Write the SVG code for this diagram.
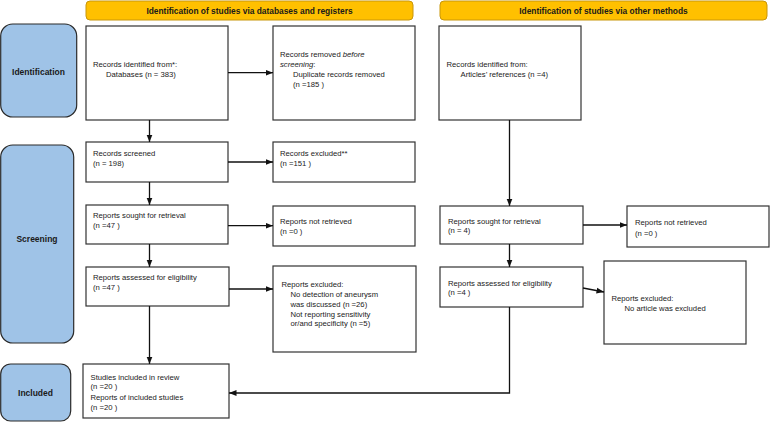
<svg xmlns="http://www.w3.org/2000/svg" width="770" height="422" viewBox="0 0 770 422">
<style>
text{font-family:"Liberation Sans",Arial,sans-serif;font-size:7.7px;fill:#1a1a1a}
.hdr{fill:#FFC000;stroke:#C8960A;stroke-width:1}
.hdrt{font-weight:bold;text-anchor:middle;font-size:8.4px}
.pill{fill:#9FC3E7;stroke:#2a2a2a;stroke-width:1.2}
.pillt{font-weight:bold;text-anchor:middle;font-size:8.5px}
.box{fill:#fff;stroke:#333;stroke-width:1.2}
.con{fill:none;stroke:#111;stroke-width:1.3}
</style>
<defs>
<marker id="ah" viewBox="0 0 10 10" refX="10" refY="5" markerWidth="7.5" markerHeight="7.5" markerUnits="userSpaceOnUse" orient="auto">
<path d="M0,1 L10,5 L0,9 z" fill="#111"/>
</marker>
</defs>
<rect width="770" height="422" fill="#fff"/>

<g id="hdr1"><rect class="hdr" x="86" y="1" width="327" height="19" rx="4"/><text class="hdrt" x="249.5" y="13.8">Identification of studies via databases and registers</text></g>
<g id="hdr2"><rect class="hdr" x="440" y="1" width="327" height="19" rx="4"/><text class="hdrt" x="603.5" y="13.8">Identification of studies via other methods</text></g>

<g id="pill-identification"><rect class="pill" x="0.7" y="24" width="76" height="93" rx="12"/><text class="pillt" x="38.5" y="74.7">Identification</text></g>
<g id="pill-screening"><rect class="pill" x="0.7" y="145" width="73" height="198" rx="12"/><text class="pillt" x="37" y="242">Screening</text></g>
<g id="pill-included"><rect class="pill" x="0.7" y="364" width="70" height="57" rx="10"/><text class="pillt" x="35.5" y="395.7">Included</text></g>

<g id="n-records-identified"><rect class="box" x="86" y="26" width="142" height="94"/>
<text x="93" y="66.5">Records identified from*:</text><text x="106" y="77">Databases (n = 383)</text></g>
<g id="n-records-removed"><rect class="box" x="273" y="26" width="142" height="94"/>
<text x="280" y="56.5">Records removed <tspan font-style="italic">before</tspan></text><text x="280" y="67" font-style="italic">screening<tspan font-style="normal">:</tspan></text><text x="293" y="77">Duplicate records removed</text><text x="293" y="87">(n =185 )</text></g>
<g id="n-other-identified"><rect class="box" x="439" y="26" width="142" height="94"/>
<text x="446.5" y="66.5">Records identified from:</text><text x="460.5" y="77">Articles’ references (n =4)</text></g>

<g id="n-screened"><rect class="box" x="86" y="142" width="142" height="40"/>
<text x="93" y="155.5">Records screened</text><text x="93" y="165.5">(n = 198)</text></g>
<g id="n-excluded"><rect class="box" x="273" y="142" width="142" height="40"/>
<text x="280" y="155.5">Records excluded**</text><text x="280" y="165.5">(n =151 )</text></g>

<g id="n-sought"><rect class="box" x="86" y="205" width="142" height="39"/>
<text x="93" y="218">Reports sought for retrieval</text><text x="93" y="228">(n =47 )</text></g>
<g id="n-not-retrieved"><rect class="box" x="273" y="206" width="142" height="40"/>
<text x="280" y="224">Reports not retrieved</text><text x="280" y="234">(n =0 )</text></g>

<g id="n-assessed"><rect class="box" x="86" y="267" width="143" height="39"/>
<text x="93" y="280">Reports assessed for eligibility</text><text x="93" y="289.5">(n =47 )</text></g>
<g id="n-reports-excluded"><rect class="box" x="273" y="266" width="143" height="86"/>
<text x="281.5" y="287">Reports excluded:</text><text x="290.5" y="297">No detection of aneurysm</text><text x="290.5" y="306.5">was discussed (n =26)</text><text x="290.5" y="316.5">Not reporting sensitivity</text><text x="290.5" y="326">or/and specificity (n =5)</text></g>

<g id="n-included"><rect class="box" x="83" y="364" width="146" height="54"/>
<text x="90.5" y="379.5">Studies included in review</text><text x="90.5" y="389">(n =20 )</text><text x="90.5" y="399.5">Reports of included studies</text><text x="90.5" y="409.5">(n =20 )</text></g>

<g id="n-other-sought"><rect class="box" x="440" y="206" width="143" height="38"/>
<text x="448" y="224">Reports sought for retrieval</text><text x="448" y="233">(n = 4)</text></g>
<g id="n-other-not-retrieved"><rect class="box" x="627" y="206" width="142" height="41"/>
<text x="635" y="224.5">Reports not retrieved</text><text x="635" y="235.5">(n =0 )</text></g>
<g id="n-other-assessed"><rect class="box" x="440" y="267" width="143" height="40"/>
<text x="448" y="285.5">Reports assessed for eligibility</text><text x="448" y="295">(n =4 )</text></g>
<g id="n-other-excluded"><rect class="box" x="604" y="261" width="142" height="83"/>
<text x="611.5" y="301">Reports excluded:</text><text x="624.5" y="311">No article was excluded</text></g>

<g id="connectors">
<path class="con" d="M149.5,120 V142" marker-end="url(#ah)"/>
<path class="con" d="M228,72.7 H273" marker-end="url(#ah)"/>
<path class="con" d="M149.5,182 V205" marker-end="url(#ah)"/>
<path class="con" d="M228,162 H273" marker-end="url(#ah)"/>
<path class="con" d="M149.5,244 V267" marker-end="url(#ah)"/>
<path class="con" d="M228,225.7 H273" marker-end="url(#ah)"/>
<path class="con" d="M229,289 H273" marker-end="url(#ah)"/>
<path class="con" d="M149.5,306 V364" marker-end="url(#ah)"/>
<path class="con" d="M509.5,120 V206" marker-end="url(#ah)"/>
<path class="con" d="M583,225 H627" marker-end="url(#ah)"/>
<path class="con" d="M509.5,244 V267" marker-end="url(#ah)"/>
<path class="con" d="M583,288 L604,292" marker-end="url(#ah)"/>
<path class="con" d="M509.5,307 V393 H229" marker-end="url(#ah)"/>
</g>
</svg>
